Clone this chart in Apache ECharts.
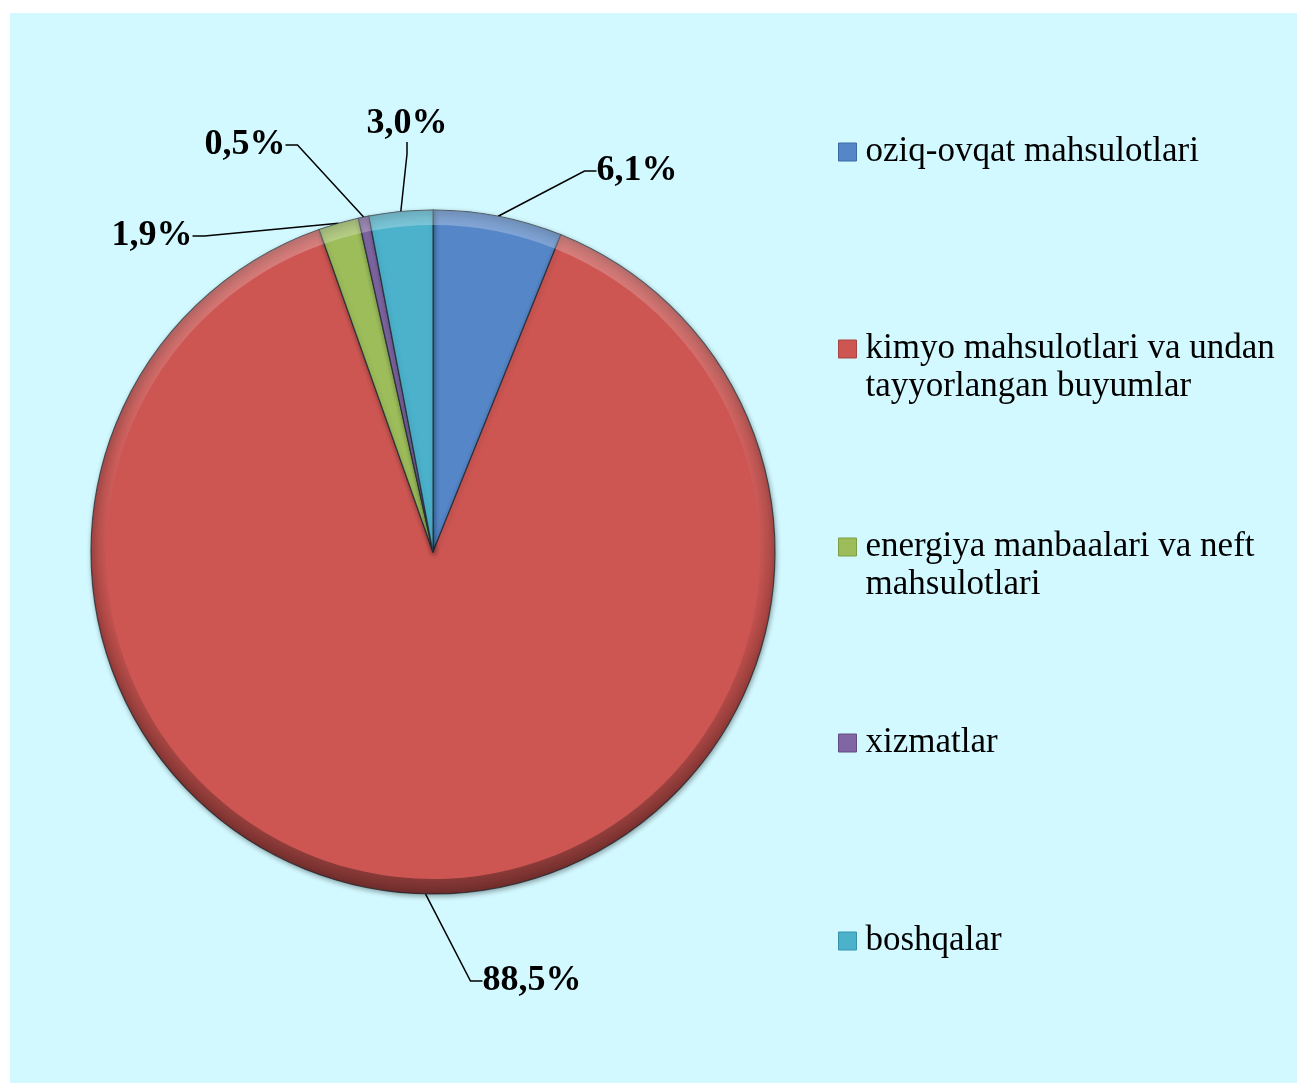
<!DOCTYPE html>
<html>
<head>
<meta charset="utf-8">
<script src="https://cdn.jsdelivr.net/npm/echarts@6/dist/echarts.min.js"></script>
<style>
  html, body { margin: 0; padding: 0; background: #fff; }
  #chart { position: absolute; left: 10px; top: 13px; width: 1287px; height: 1070px; }
</style>
</head>
<body>
<div id="chart"></div>
<script>
// ulushlar, foizda
var categories = [
    'oziq-ovqat mahsulotlari',
    'kimyo mahsulotlari va undan tayyorlangan buyumlar',
    'energiya manbaalari va neft mahsulotlari',
    'xizmatlar',
    'boshqalar'
];
var legendText = [
    'oziq-ovqat mahsulotlari',
    'kimyo mahsulotlari va undan\ntayyorlangan buyumlar',
    'energiya manbaalari va neft\nmahsulotlari',
    'xizmatlar',
    'boshqalar'
];
var values = [6.1, 88.5, 1.9, 0.5, 3.0];
var colors = ['#5586c8', '#cd5653', '#9dbd5b', '#8066a3', '#4cb2cc'];
var rimDark = ['#3d6aa5', '#a84441', '#7e9c45', '#634c85', '#3592aa'];

// label o'rinlari (chart ichida)
var labelXY = [[627, 158], [522, 968], [142, 223], [235, 132], [397, 111]];
// legend belgisi markazi (chart ichida, y)
var legendY = [139, 336, 534, 730, 928];

var cx = 423, cy = 539, R = 342;

var chart = echarts.init(document.getElementById('chart'));

var legends = categories.map(function (c, i) {
    var two = legendText[i].indexOf('\n') >= 0;
    return {
        orient: 'vertical',
        left: 828,
        top: legendY[i] - (two ? 57 : 19),
        padding: 0,
        data: [c],
        icon: 'rect',
        itemWidth: 18,
        itemHeight: 18,
        itemGap: 0,
        selectedMode: false,
        formatter: function () { return (two ? '\n' : '') + legendText[i]; },
        itemStyle: { color: colors[i], borderWidth: 1, borderColor: rimDark[i] },
        textStyle: {
            fontFamily: 'Liberation Serif',
            fontSize: 35,
            lineHeight: 38,
            color: '#000',
            padding: [0, 0, 0, 4]
        }
    };
});

function sliceFill(i) {
    return new echarts.graphic.RadialGradient(cx, cy, R, [
        { offset: 0, color: colors[i] },
        { offset: 0.955, color: colors[i] },
        { offset: 1, color: rimDark[i] }
    ], true);
}

var bevel = new echarts.graphic.LinearGradient(0, cy - R, 0, cy + R, [
    { offset: 0, color: 'rgba(255,255,255,0.28)' },
    { offset: 0.35, color: 'rgba(255,255,255,0.06)' },
    { offset: 0.6, color: 'rgba(0,0,0,0.05)' },
    { offset: 1, color: 'rgba(0,0,0,0.35)' }
], true);

var pieData = categories.map(function (c, i) {
    return { name: c, value: values[i], itemStyle: { color: sliceFill(i) } };
});

var option = {
    backgroundColor: '#d2f9ff',
    animation: false,
    color: colors,
    legend: legends,
    series: [{
        type: 'pie',
        center: [cx, cy],
        radius: R,
        startAngle: 90,
        clockwise: true,
        data: pieData,
        itemStyle: {
            borderColor: 'rgba(30,40,50,0.75)',
            borderWidth: 1.2,
            shadowBlur: 5,
            shadowOffsetX: 1,
            shadowOffsetY: 2,
            shadowColor: 'rgba(0,0,0,0.35)'
        },
        label: {
            show: true,
            position: 'outside',
            formatter: function (p) { return p.value.toFixed(1).replace('.', ',') + '%'; },
            fontFamily: 'Liberation Serif',
            fontWeight: 'bold',
            fontSize: 36,
            color: '#000'
        },
        labelLine: {
            show: true,
            length: 20,
            length2: 12,
            lineStyle: { color: '#000', width: 1.5 }
        },
        labelLayout: function (p) {
            var xy = labelXY[p.dataIndex];
            return { x: xy[0], y: xy[1], align: 'center', verticalAlign: 'middle' };
        },
        emphasis: { disabled: true }
    }, {
        // yoritilgan chet (bevel)
        type: 'pie',
        center: [cx, cy],
        radius: [R - 15, R],
        startAngle: 90,
        clockwise: true,
        silent: true,
        data: categories.map(function (c, i) {
            return { name: c, value: values[i] };
        }),
        itemStyle: { color: bevel, borderWidth: 0 },
        label: { show: false },
        labelLine: { show: false },
        emphasis: { disabled: true }
    }]
};
chart.setOption(option);
</script>
</body>
</html>
